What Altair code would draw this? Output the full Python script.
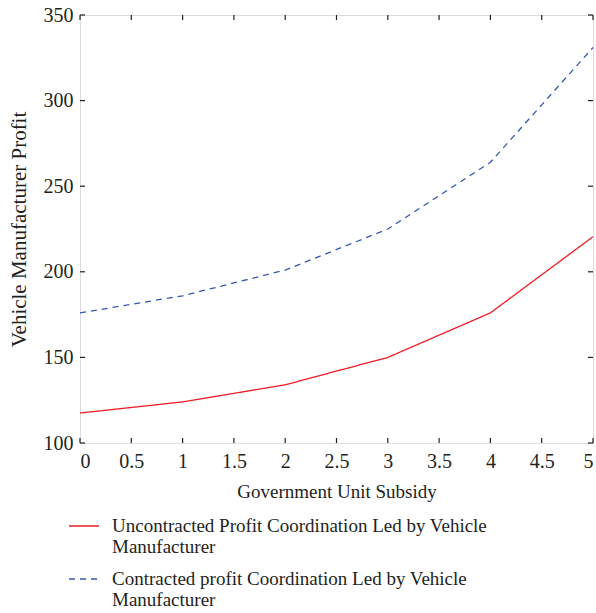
import altair as alt
import pandas as pd

subsidy = [0, 1, 2, 3, 4, 5]
uncontracted = [117.5, 124, 134, 150, 176, 220.5]
contracted = [176, 186, 201, 225, 264, 331]
series_names = [
    "Uncontracted Profit Coordination Led by Vehicle Manufacturer",
    "Contracted profit Coordination Led by Vehicle Manufacturer",
]
x_ticks = [0, 0.5, 1, 1.5, 2, 2.5, 3, 3.5, 4, 4.5, 5]
y_ticks = [100, 150, 200, 250, 300, 350]

rows = []
for s, vals in zip(series_names, [uncontracted, contracted]):
    for x, v in zip(subsidy, vals):
        rows.append({"x": x, "y": v, "series": s})
df = pd.DataFrame(rows)

FONT = "Liberation Serif"
W, H = 513, 428
TXT = "#231f20"

xs = alt.Scale(domain=[0, 5], nice=False)
ys = alt.Scale(domain=[100, 350], nice=False)

lines = alt.Chart(df).mark_line(strokeWidth=1.3).encode(
    x=alt.X("x:Q", scale=xs, title="Government Unit Subsidy",
            axis=alt.Axis(values=x_ticks, ticks=False, domain=False, grid=False, format="~g",
                          labelFontSize=20, titleFontSize=19, labelPadding=8,
                          titlePadding=11, labelFont=FONT, titleFont=FONT,
                          titleFontWeight="normal", labelColor=TXT, titleColor=TXT)),
    y=alt.Y("y:Q", scale=ys, title="Vehicle Manufacturer Profit",
            axis=alt.Axis(values=y_ticks, ticks=False, domain=False, grid=False,
                          labelFontSize=20, titleFontSize=21, labelPadding=7,
                          titlePadding=14, labelFont=FONT, titleFont=FONT,
                          titleFontWeight="normal", labelColor=TXT, titleColor=TXT)),
    color=alt.Color("series:N", scale=alt.Scale(domain=series_names, range=["#ee1c25", "#3356b0"]),
                    legend=alt.Legend(orient="none", legendX=-12, legendY=495, title=None,
                                      symbolType="stroke", symbolSize=900, symbolStrokeWidth=1.3,
                                      labelFont=FONT, labelFontSize=19, labelColor=TXT,
                                      labelLimit=600, labelOffset=12, rowPadding=6,
                                      labelExpr="split(replace(datum.label, ' Manufacturer', '|Manufacturer'), '|')")),
    strokeDash=alt.StrokeDash("series:N", scale=alt.Scale(domain=series_names, range=[[1, 0], [6, 5]]),
                              legend=None),
)

xt = pd.DataFrame({"v": x_ticks})
yt = pd.DataFrame({"v": y_ticks})
bx = alt.Chart(xt).mark_rule(color=TXT, strokeWidth=1.2).encode(
    x=alt.X("v:Q", scale=xs), y=alt.value(H), y2=alt.value(H - 5))
tx = alt.Chart(xt).mark_rule(color=TXT, strokeWidth=1.2).encode(
    x=alt.X("v:Q", scale=xs), y=alt.value(0), y2=alt.value(5))
ly = alt.Chart(yt).mark_rule(color=TXT, strokeWidth=1.2).encode(
    y=alt.Y("v:Q", scale=ys), x=alt.value(0), x2=alt.value(5))
ry = alt.Chart(yt).mark_rule(color=TXT, strokeWidth=1.2).encode(
    y=alt.Y("v:Q", scale=ys), x=alt.value(W), x2=alt.value(W - 5))

chart = alt.layer(lines, bx, tx, ly, ry).properties(
    width=W, height=H,
    autosize=alt.AutoSizeParams(type="none"),
    padding={"left": 80, "top": 15, "right": 3, "bottom": 170},
).configure_view(stroke=TXT, strokeWidth=1.5).configure(background="white")

chart.save("out.html", embed_options={"renderer": "svg", "actions": False})
